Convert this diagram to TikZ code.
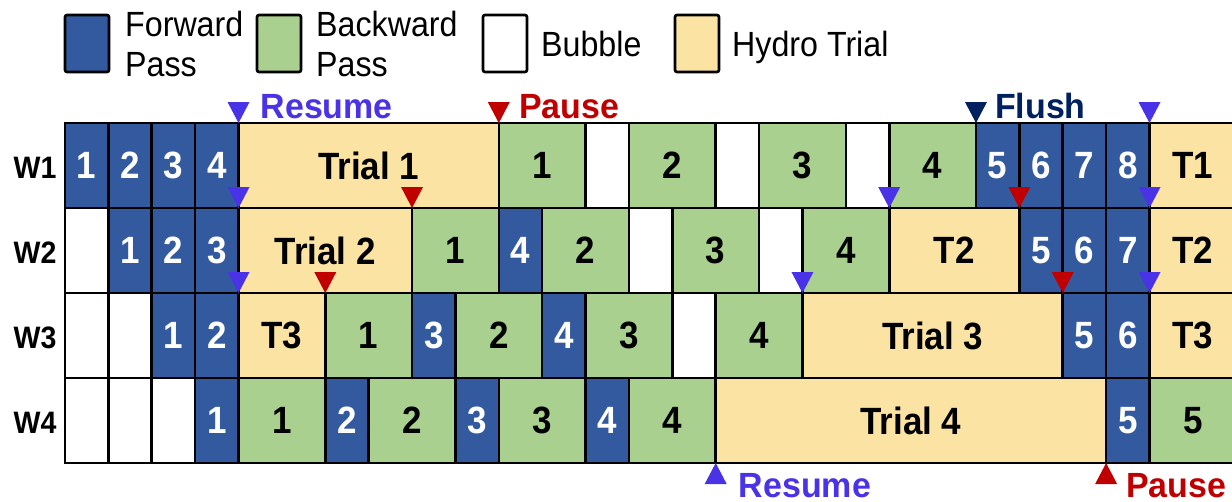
\documentclass[tikz,border=0pt]{standalone}
\usepackage{fontspec}
\setmainfont{Liberation Sans}
\newfontfamily\cond[FakeStretch=0.92]{Liberation Sans}
\newfontfamily\condb[FakeStretch=0.97]{Liberation Sans}
\definecolor{fwc}{RGB}{51,90,158}
\definecolor{bwc}{RGB}{169,208,142}
\definecolor{trc}{RGB}{251,227,163}
\definecolor{resc}{RGB}{74,50,230}
\definecolor{pauc}{RGB}{192,0,0}
\definecolor{flc}{RGB}{0,32,96}
\tikzset{
  cellline/.style={draw=black, line width=2.6pt},
  fw/.style={fill=fwc}, bw/.style={fill=bwc}, bub/.style={fill=white}, tr/.style={fill=trc},
  fwT/.style={text=white}, bwT/.style={text=black}, bubT/.style={text=black}, trT/.style={text=black},
  celltxt/.style={font=\cond\bfseries\fontsize{38}{38}\selectfont, inner sep=0pt},
  rowlab/.style={font=\cond\bfseries\fontsize{31}{31}\selectfont, inner sep=0pt},
  marklab/.style={font=\condb\bfseries\fontsize{35}{35}\selectfont, inner sep=0pt, anchor=base west},
  legtxt/.style={font=\cond\fontsize{35}{35}\selectfont, inner sep=0pt, anchor=base west},
  legbox/.style={draw=black, line width=2.6pt, rounded corners=2pt},
}
\newcommand\cl[5]{%
  \path[cellline,#4] (#2,#1-1) rectangle (#3,#1);
  \node[celltxt,#4T] (c#1-#2) at ({(#2+#3)/2},{#1-0.5}) {#5};}
\newcommand\tdown[3]{\fill[#3] (#1,#2) -- ++(-11pt,21pt) -- ++(22pt,0pt) -- cycle;}
\newcommand\tup[3]{\fill[#3] (#1,#2) -- ++(-11pt,-21pt) -- ++(22pt,0pt) -- cycle;}
\begin{document}
\begin{tikzpicture}[x=1pt,y=-1pt]
\useasboundingbox (0,0) rectangle (1232,501);
\clip (0,0) rectangle (1232,501);
% legend
\draw[legbox, fill=fwc] (65,15) rectangle (109,72);
\node[legtxt] (lf1) at (125,36) {Forward};
\node[legtxt] (lf2) at (125,76) {Pass};
\draw[legbox, fill=bwc] (257,15) rectangle (301,72);
\node[legtxt] (lb1) at (316,36) {Backward};
\node[legtxt] (lb2) at (316,76) {Pass};
\draw[legbox, fill=white] (483,15) rectangle (527,72);
\node[legtxt] (lbu) at (541,56) {Bubble};
\draw[legbox, fill=trc] (675,15) rectangle (719,72);
\node[legtxt] (lht) at (732,56) {Hydro Trial};
% row labels
\node[rowlab] (w1) at (35,168) {W1};
\node[rowlab] (w2) at (35,253) {W2};
\node[rowlab] (w3) at (35,338) {W3};
\node[rowlab] (w4) at (35,423) {W4};
\begin{scope}[shift={(65,123)}, x=43.38pt, y=-85pt]
% row 1
\cl{1}{0}{1}{fw}{1}\cl{1}{1}{2}{fw}{2}\cl{1}{2}{3}{fw}{3}\cl{1}{3}{4}{fw}{4}
\cl{1}{4}{10}{tr}{Trial 1}\cl{1}{10}{12}{bw}{1}\cl{1}{12}{13}{bub}{}
\cl{1}{13}{15}{bw}{2}\cl{1}{15}{16}{bub}{}\cl{1}{16}{18}{bw}{3}\cl{1}{18}{19}{bub}{}
\cl{1}{19}{21}{bw}{4}\cl{1}{21}{22}{fw}{5}\cl{1}{22}{23}{fw}{6}\cl{1}{23}{24}{fw}{7}
\cl{1}{24}{25}{fw}{8}\cl{1}{25}{27}{tr}{T1}
% row 2
\cl{2}{0}{1}{bub}{}\cl{2}{1}{2}{fw}{1}\cl{2}{2}{3}{fw}{2}\cl{2}{3}{4}{fw}{3}
\cl{2}{4}{8}{tr}{Trial 2}\cl{2}{8}{10}{bw}{1}\cl{2}{10}{11}{fw}{4}\cl{2}{11}{13}{bw}{2}
\cl{2}{13}{14}{bub}{}\cl{2}{14}{16}{bw}{3}\cl{2}{16}{17}{bub}{}\cl{2}{17}{19}{bw}{4}
\cl{2}{19}{22}{tr}{T2}\cl{2}{22}{23}{fw}{5}\cl{2}{23}{24}{fw}{6}\cl{2}{24}{25}{fw}{7}
\cl{2}{25}{27}{tr}{T2}
% row 3
\cl{3}{0}{1}{bub}{}\cl{3}{1}{2}{bub}{}\cl{3}{2}{3}{fw}{1}\cl{3}{3}{4}{fw}{2}
\cl{3}{4}{6}{tr}{T3}\cl{3}{6}{8}{bw}{1}\cl{3}{8}{9}{fw}{3}\cl{3}{9}{11}{bw}{2}
\cl{3}{11}{12}{fw}{4}\cl{3}{12}{14}{bw}{3}\cl{3}{14}{15}{bub}{}\cl{3}{15}{17}{bw}{4}
\cl{3}{17}{23}{tr}{Trial 3}\cl{3}{23}{24}{fw}{5}\cl{3}{24}{25}{fw}{6}\cl{3}{25}{27}{tr}{T3}
% row 4
\cl{4}{0}{1}{bub}{}\cl{4}{1}{2}{bub}{}\cl{4}{2}{3}{bub}{}\cl{4}{3}{4}{fw}{1}
\cl{4}{4}{6}{bw}{1}\cl{4}{6}{7}{fw}{2}\cl{4}{7}{9}{bw}{2}\cl{4}{9}{10}{fw}{3}
\cl{4}{10}{12}{bw}{3}\cl{4}{12}{13}{fw}{4}\cl{4}{13}{15}{bw}{4}
\cl{4}{15}{24}{tr}{Trial 4}\cl{4}{24}{25}{fw}{5}\cl{4}{25}{27}{bw}{5}
% markers
\tdown{4}{0}{resc}\tdown{10}{0}{pauc}\tdown{21}{0}{flc}\tdown{25}{0}{resc}
\tdown{4}{1}{resc}\tdown{8}{1}{pauc}\tdown{19}{1}{resc}\tdown{22}{1}{pauc}\tdown{25}{1}{resc}
\tdown{4}{2}{resc}\tdown{6}{2}{pauc}\tdown{17}{2}{resc}\tdown{23}{2}{pauc}\tdown{25}{2}{resc}
\tup{15}{4}{resc}\tup{24}{4}{pauc}
\coordinate (mres) at (4,0);
\coordinate (mpau) at (10,0);
\coordinate (mflu) at (21,0);
\coordinate (bres) at (15,4);
\coordinate (bpau) at (24,4);
\end{scope}
\node[marklab, text=resc] (tres) at ([shift={(22pt,5pt)}]mres) {Resume};
\node[marklab, text=pauc] (tpau) at ([shift={(20pt,5pt)}]mpau) {Pause};
\node[marklab, text=flc] (tflu) at ([shift={(19pt,5pt)}]mflu) {Flush};
\node[marklab, text=resc] (bres2) at ([shift={(23pt,-34pt)}]bres) {Resume};
\node[marklab, text=pauc] (bpau2) at ([shift={(20pt,-34pt)}]bpau) {Pause};
\end{tikzpicture}
\end{document}
